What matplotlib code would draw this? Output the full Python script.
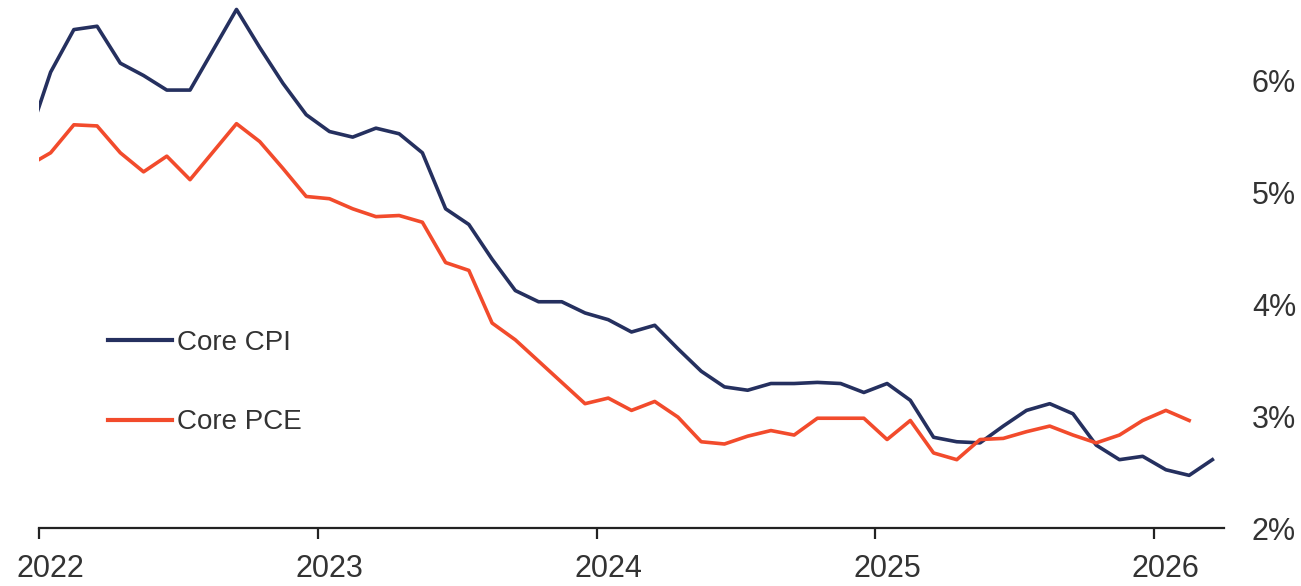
import matplotlib
matplotlib.use("Agg")
import matplotlib.pyplot as plt
import numpy as np
import pandas as pd

# Monthly observations, Dec 2021 .. Mar 2026 (year-over-year, %)
months = pd.date_range("2021-12-01", "2026-03-01", freq="MS")

core_cpi = [5.45, 6.07, 6.45, 6.48, 6.15, 6.04, 5.91, 5.91, 6.27, 6.63, 6.29, 5.97,
            5.69, 5.54, 5.49, 5.57, 5.52, 5.35, 4.85, 4.71, 4.40, 4.12, 4.02, 4.02,
            3.92, 3.86, 3.75, 3.81, 3.60, 3.40, 3.26, 3.23, 3.29, 3.29, 3.30, 3.29,
            3.21, 3.29, 3.14, 2.81, 2.77, 2.76, 2.91, 3.05, 3.11, 3.02, 2.74, 2.61,
            2.64, 2.52, 2.47, 2.61]
core_pce = [5.23, 5.35, 5.60, 5.59, 5.35, 5.18, 5.32, 5.11, 5.36, 5.61, 5.45, 5.21,
            4.96, 4.94, 4.85, 4.78, 4.79, 4.73, 4.37, 4.30, 3.83, 3.68, 3.49, 3.30,
            3.11, 3.16, 3.05, 3.13, 2.99, 2.77, 2.75, 2.82, 2.87, 2.83, 2.98, 2.98,
            2.98, 2.79, 2.96, 2.67, 2.61, 2.79, 2.80, 2.86, 2.91, 2.83, 2.76, 2.83,
            2.96, 3.05, 2.96]

series_labels = ["Core CPI", "Core PCE"]
year_labels = ["2022", "2023", "2024", "2025", "2026"]
y_ticks = [2, 3, 4, 5, 6]
y_tick_labels = ["2%", "3%", "4%", "5%", "6%"]

CPI_COLOR = "#25305f"
PCE_COLOR = "#f24b2c"
TEXT_COLOR = "#333333"
SANS = ["Liberation Sans", "DejaVu Sans"]

# x positions: month index, Jan 2022 = 0
x_all = np.arange(len(months)) - 1

fig = plt.figure(figsize=(13.01, 5.86), dpi=100)
ax = fig.add_axes([39 / 1301, 58 / 586, (1224 - 39) / 1301, 528 / 586])

ax.plot(x_all[:len(core_cpi)], core_cpi, color=CPI_COLOR, lw=2.6,
        label=series_labels[0], solid_joinstyle="round")
ax.plot(x_all[:len(core_pce)], core_pce, color=PCE_COLOR, lw=2.6,
        label=series_labels[1], solid_joinstyle="round")

ax.set_xlim(-0.5, 50.5)
ax.set_ylim(2, 2 + 528 / 112)

for s in ["top", "right", "left"]:
    ax.spines[s].set_visible(False)
ax.spines["bottom"].set_linewidth(1.6)
ax.spines["bottom"].set_color("#222222")

# year boundary tick marks (minor), labels centred on January (major)
year_pos = [12 * k for k in range(len(year_labels))]
ax.set_xticks(year_pos)
ax.set_xticklabels(year_labels, family=SANS, fontsize=22, color=TEXT_COLOR)
ax.set_xticks([p - 0.5 for p in year_pos], minor=True)
ax.tick_params(axis="x", which="major", length=0, pad=19)
ax.tick_params(axis="x", which="minor", length=8, width=1.6, color="#222222")

ax.yaxis.tick_right()
ax.set_yticks(y_ticks)
ax.set_yticklabels(y_tick_labels, family=SANS, fontsize=22, color=TEXT_COLOR)
ax.tick_params(axis="y", length=0, pad=20)

leg = ax.legend(loc="upper left", bbox_to_anchor=(108 / 1301, 1 - 330 / 586),
                bbox_transform=fig.transFigure, frameon=False,
                prop={"family": SANS, "size": 20}, handlelength=2.3,
                handletextpad=0.2, labelspacing=1.92, borderpad=0,
                borderaxespad=0)
for t in leg.get_texts():
    t.set_color(TEXT_COLOR)
for h in leg.get_lines():
    h.set_linewidth(3)

fig.savefig("out.png", dpi=100, facecolor="white")
